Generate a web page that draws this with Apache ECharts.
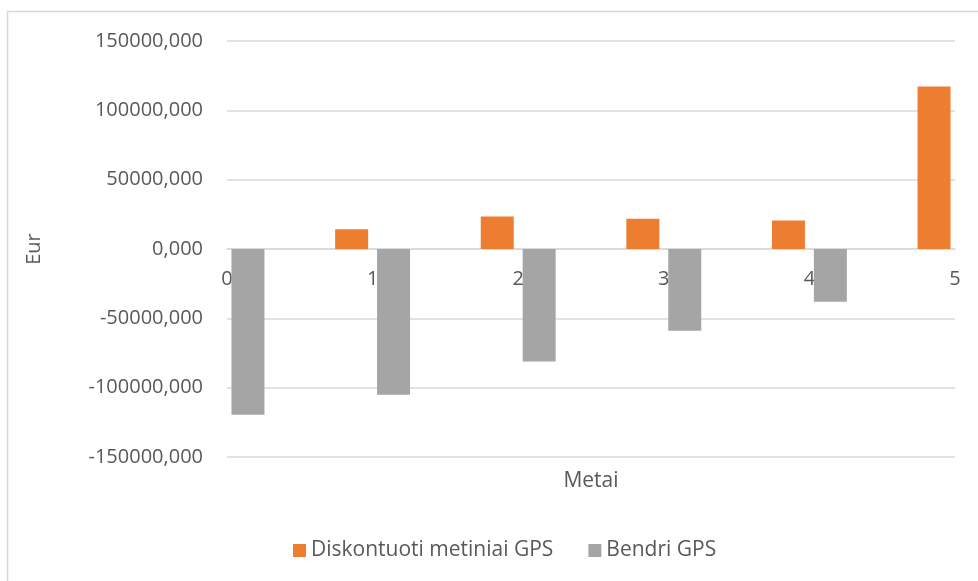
<!DOCTYPE html>
<html>
<head>
<meta charset="utf-8">
<script src="https://cdn.jsdelivr.net/npm/echarts@6/dist/echarts.min.js"></script>
<style>
  html, body { margin: 0; padding: 0; background: #ffffff; }
  #chart { width: 978px; height: 581px; }
</style>
</head>
<body>
<div id="chart"></div>
<script>
// Years of the project
const years = ['0', '1', '2', '3', '4', '5'];
// Discounted yearly cash flow (orange)
const diskontuotiMetiniaiGPS = [0, 14200, 23400, 21900, 20500, 117200];
// Cumulative cash flow (grey)
const bendriGPS = [-119500, -105100, -81200, -58900, -38000, null];
// Value axis ticks
const yMin = -150000, yMax = 150000, yStep = 50000;

const FONT = 'Open Sans';
const TEXT = '#595959';
const GRID = '#d9d9d9';

const W = 978, H = 581;
const gridBox = { left: 227, right: 23, top: 41, bottom: 124 };
// The category axis crosses the value axis at zero: lift it from the grid bottom
const plotH = H - gridBox.top - gridBox.bottom;
const zeroLift = plotH * (0 - yMin) / (yMax - yMin);

const chart = echarts.init(document.getElementById('chart'));
chart.setOption({
  animation: false,
  textStyle: { fontFamily: FONT },
  graphic: [{
    type: 'rect',
    shape: { x: 7.5, y: 11.5, width: 1000, height: 600 },
    style: { fill: 'none', stroke: GRID, lineWidth: 1.5 },
    silent: true,
    z: -1
  }],
  grid: Object.assign({ containLabel: false, outerBoundsMode: 'none' }, gridBox),
  legend: {
    left: 288,
    top: 535,
    icon: 'rect',
    itemWidth: 13,
    itemHeight: 13,
    itemGap: 35,
    textStyle: { color: TEXT, fontSize: 21, fontFamily: FONT },
    data: ['Diskontuoti metiniai GPS', 'Bendri GPS']
  },
  xAxis: {
    type: 'category',
    data: years,
    boundaryGap: false,
    position: 'bottom',
    offset: -zeroLift,
    name: 'Metai',
    nameLocation: 'middle',
    nameGap: 222,
    nameTextStyle: { color: TEXT, fontSize: 21, fontFamily: FONT },
    axisLine: { onZero: false, lineStyle: { color: GRID, width: 1.5 } },
    axisTick: { show: false },
    axisLabel: { color: TEXT, fontSize: 20, fontFamily: FONT, margin: 20, interval: 0 },
    splitLine: { show: false }
  },
  yAxis: {
    type: 'value',
    min: yMin,
    max: yMax,
    interval: yStep,
    name: 'Eur',
    nameLocation: 'middle',
    nameGap: 183,
    nameTextStyle: { color: TEXT, fontSize: 20, fontFamily: FONT },
    axisLine: { show: false },
    axisTick: { show: false },
    axisLabel: {
      color: TEXT, fontSize: 20, fontFamily: FONT, margin: 24,
      formatter: v => v.toFixed(3).replace('.', ',')
    },
    splitLine: { lineStyle: { color: GRID, width: 1.5 } }
  },
  series: [
    {
      name: 'Diskontuoti metiniai GPS',
      type: 'bar',
      data: diskontuotiMetiniaiGPS,
      barWidth: 33,
      barGap: '27%',
      itemStyle: { color: '#ED7D31' }
    },
    {
      name: 'Bendri GPS',
      type: 'bar',
      data: bendriGPS,
      barWidth: 33,
      barGap: '27%',
      itemStyle: { color: '#A5A5A5' }
    }
  ]
});
</script>
</body>
</html>
